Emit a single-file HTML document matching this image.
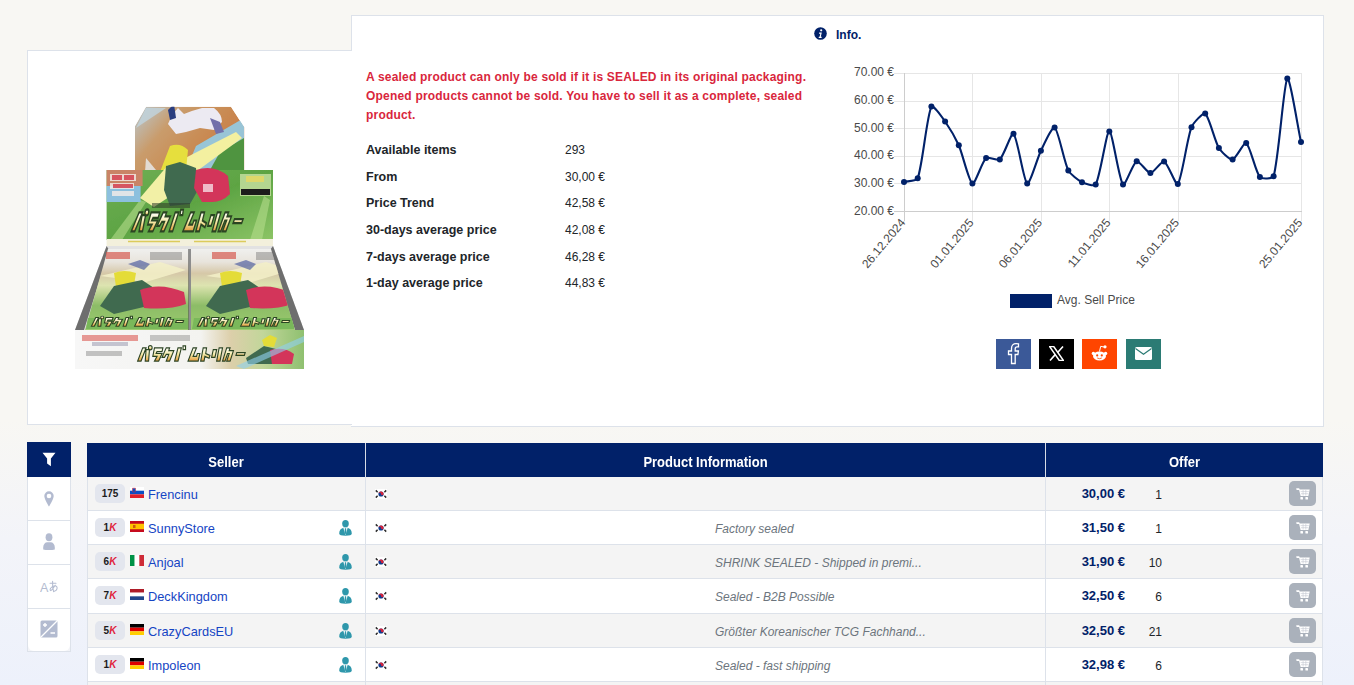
<!DOCTYPE html>
<html><head><meta charset="utf-8">
<style>
*{box-sizing:border-box;margin:0;padding:0}
html,body{width:1354px;height:685px;overflow:hidden}
body{font-family:"Liberation Sans",sans-serif;color:#212529;position:relative;
background:linear-gradient(to bottom,#f8f7f3 0px,#f8f7f3 420px,#f3f4f9 540px,#edf1fb 685px)}
.abs{position:absolute}
#info{left:351px;top:15px;width:973px;height:412px;background:#fff;border:1px solid #dde2ea}
#imgp{left:27px;top:50px;width:325px;height:375px;background:#fff;border:1px solid #dde2ea;border-right:none;z-index:2}
.t{position:absolute;white-space:nowrap}
#warn{left:366px;top:68px;font:bold 12px/19px "Liberation Sans",sans-serif;color:#d9263c;letter-spacing:0.2px}
.lab{font:bold 12.5px "Liberation Sans",sans-serif;color:#212529}
.val{font:12px "Liberation Sans",sans-serif;color:#212529}
.th{font:bold 13px "Liberation Sans",sans-serif;color:#fff;text-align:center;transform:scaleY(1.12)}
.row{position:absolute;left:87px;width:1236px;border-left:1px solid #dde2ea;border-right:1px solid #dde2ea;border-bottom:1px solid #dde2ea}
.row:before{content:"";position:absolute;left:277px;top:0;bottom:-1px;width:1px;background:#dde2ea}
.row:after{content:"";position:absolute;left:957px;top:0;bottom:-1px;width:1px;background:#dde2ea}
.badge{position:absolute;left:7px;top:7px;width:30px;height:19px;border-radius:5px;background:#e3e6ee;font:bold 10px/19px "Liberation Sans",sans-serif;color:#1b1b1b;text-align:center}
.badge i{color:#e0243c}
.flag{position:absolute;left:42px;top:10px;width:14px;height:11px;line-height:0}
.flag svg{display:block}
.name{position:absolute;left:60px;top:10px;font:12.8px "Liberation Sans",sans-serif;color:#1545c4;white-space:nowrap}
.pro{position:absolute;left:251px;top:9px}
.kr{position:absolute;left:287px;top:12px}
.cm{position:absolute;left:627px;top:11px;font:italic 12px "Liberation Sans",sans-serif;color:#6c757d;white-space:nowrap}
.pr{position:absolute;right:197px;top:9px;font:bold 13px "Liberation Sans",sans-serif;color:#012169;white-space:nowrap}
.qt{position:absolute;right:160px;top:11px;font:12px "Liberation Sans",sans-serif;color:#212529}
.cart{position:absolute;left:1201px;top:4px;width:27px;height:25px;border-radius:5px;background:#aab1bb;display:flex;align-items:center;justify-content:center}
.cart svg{display:block}
</style></head><body>
<div id="info" class="abs"></div>
<div id="imgp" class="abs"></div>
<div class="abs" style="left:351px;top:425px;width:1px;height:1px;background:#fff;z-index:2"></div>

<svg class="abs" style="left:814px;top:27px" width="13" height="13" viewBox="0 0 13 13"><circle cx="6.5" cy="6.5" r="6.3" fill="#012169"/><circle cx="7.2" cy="3.3" r="1.1" fill="#fff"/><path d="M5.2 5.6h2.6l-1 4.2h1l-0.3 1.2h-2.9l0.3-1.2h0.7l0.7-3h-1.4z" fill="#fff"/></svg>
<div class="t" style="left:836px;top:28px;font:bold 12px 'Liberation Sans',sans-serif;color:#012169">Info.</div>

<div id="warn" class="t">A sealed product can only be sold if it is SEALED in its original packaging.<br>Opened products cannot be sold. You have to sell it as a complete, sealed<br>product.</div>

<div class="t lab" style="left:366px;top:143px">Available items</div><div class="t val" style="left:565px;top:143px">293</div>
<div class="t lab" style="left:366px;top:170px">From</div><div class="t val" style="left:565px;top:170px">30,00 €</div>
<div class="t lab" style="left:366px;top:196px">Price Trend</div><div class="t val" style="left:565px;top:196px">42,58 €</div>
<div class="t lab" style="left:366px;top:223px">30-days average price</div><div class="t val" style="left:565px;top:223px">42,08 €</div>
<div class="t lab" style="left:366px;top:250px">7-days average price</div><div class="t val" style="left:565px;top:250px">46,28 €</div>
<div class="t lab" style="left:366px;top:276px">1-day average price</div><div class="t val" style="left:565px;top:276px">44,83 €</div>

<svg id="chart" class="abs" style="left:0;top:0;z-index:3" width="1354" height="685" viewBox="0 0 1354 685">
<g stroke="#e6e6e6" stroke-width="1"><line x1="894" y1="73.5" x2="1302" y2="73.5"/><line x1="894" y1="101.5" x2="1302" y2="101.5"/><line x1="894" y1="128.5" x2="1302" y2="128.5"/><line x1="894" y1="156.5" x2="1302" y2="156.5"/><line x1="894" y1="183.5" x2="1302" y2="183.5"/><line x1="972.5" y1="73" x2="972.5" y2="221"/><line x1="1041.5" y1="73" x2="1041.5" y2="221"/><line x1="1109.5" y1="73" x2="1109.5" y2="221"/><line x1="1178.5" y1="73" x2="1178.5" y2="221"/><line x1="1301.5" y1="73" x2="1301.5" y2="221"/></g>
<line x1="894" y1="211.5" x2="1302" y2="211.5" stroke="#cdcdcd"/><line x1="904.5" y1="73" x2="904.5" y2="221" stroke="#cdcdcd"/>
<g font-family="Liberation Sans" font-size="12" fill="#4a4a4a" text-anchor="end"><text x="894" y="76.2">70.00 €</text><text x="894" y="103.9">60.00 €</text><text x="894" y="131.5">50.00 €</text><text x="894" y="159.2">40.00 €</text><text x="894" y="186.8">30.00 €</text><text x="894" y="214.5">20.00 €</text><text transform="translate(906.0,223) rotate(-50)">26.12.2024</text><text transform="translate(974.4,223) rotate(-50)">01.01.2025</text><text transform="translate(1042.9,223) rotate(-50)">06.01.2025</text><text transform="translate(1111.3,223) rotate(-50)">11.01.2025</text><text transform="translate(1179.8,223) rotate(-50)">16.01.2025</text><text transform="translate(1303.0,223) rotate(-50)">25.01.2025</text></g>
<path d="M904.0,182.0 C907.0,181.2 916.7,181.0 917.7,178.3 C922.7,164.4 926.7,116.4 931.4,106.6 C932.7,103.9 942.5,117.9 945.1,121.5 C948.5,126.4 956.3,139.8 958.8,145.3 C962.4,153.4 968.9,181.9 972.4,183.5 C975.0,184.7 982.1,161.6 986.1,158.0 C988.1,156.3 997.9,161.2 999.8,159.5 C1003.9,155.9 1011.3,131.8 1013.5,133.7 C1017.4,137.1 1023.6,181.3 1027.2,183.5 C1029.7,185.0 1037.5,157.8 1040.9,150.8 C1043.5,145.5 1052.3,125.9 1054.6,127.5 C1058.4,130.2 1064.0,161.8 1068.3,170.4 C1070.0,173.9 1078.6,180.5 1082.0,182.3 C1084.6,183.6 1094.4,186.8 1095.7,184.5 C1100.5,175.6 1106.3,131.4 1109.3,131.4 C1112.4,131.4 1119.0,180.1 1123.0,184.5 C1125.0,186.7 1133.1,162.7 1136.7,161.2 C1139.1,160.2 1147.4,173.1 1150.4,173.1 C1153.4,173.1 1161.7,160.5 1164.1,161.5 C1167.7,162.9 1175.9,186.3 1177.8,184.0 C1181.9,178.8 1187.0,138.8 1191.5,127.2 C1193.0,123.4 1203.1,112.0 1205.2,113.6 C1209.1,116.6 1214.8,141.2 1218.9,148.0 C1220.8,151.3 1229.8,160.0 1232.6,159.5 C1235.8,158.9 1244.0,141.7 1246.2,143.1 C1250.0,145.5 1255.5,171.8 1259.9,177.1 C1261.6,179.1 1272.9,178.9 1273.6,176.3 C1278.9,157.3 1283.7,83.1 1287.3,78.6 C1289.7,75.6 1298.0,128.1 1301.0,142.1" fill="none" stroke="#012169" stroke-width="2.1"/>
<g fill="#012169"><circle cx="904.0" cy="182.0" r="3"/><circle cx="917.7" cy="178.3" r="3"/><circle cx="931.4" cy="106.6" r="3"/><circle cx="945.1" cy="121.5" r="3"/><circle cx="958.8" cy="145.3" r="3"/><circle cx="972.4" cy="183.5" r="3"/><circle cx="986.1" cy="158.0" r="3"/><circle cx="999.8" cy="159.5" r="3"/><circle cx="1013.5" cy="133.7" r="3"/><circle cx="1027.2" cy="183.5" r="3"/><circle cx="1040.9" cy="150.8" r="3"/><circle cx="1054.6" cy="127.5" r="3"/><circle cx="1068.3" cy="170.4" r="3"/><circle cx="1082.0" cy="182.3" r="3"/><circle cx="1095.7" cy="184.5" r="3"/><circle cx="1109.3" cy="131.4" r="3"/><circle cx="1123.0" cy="184.5" r="3"/><circle cx="1136.7" cy="161.2" r="3"/><circle cx="1150.4" cy="173.1" r="3"/><circle cx="1164.1" cy="161.5" r="3"/><circle cx="1177.8" cy="184.0" r="3"/><circle cx="1191.5" cy="127.2" r="3"/><circle cx="1205.2" cy="113.6" r="3"/><circle cx="1218.9" cy="148.0" r="3"/><circle cx="1232.6" cy="159.5" r="3"/><circle cx="1246.2" cy="143.1" r="3"/><circle cx="1259.9" cy="177.1" r="3"/><circle cx="1273.6" cy="176.3" r="3"/><circle cx="1287.3" cy="78.6" r="3"/><circle cx="1301.0" cy="142.1" r="3"/></g>
<rect x="1010" y="294" width="42" height="14" fill="#012169"/>
<text x="1057" y="303.5" font-family="Liberation Sans" font-size="12" fill="#4a4a4a">Avg. Sell Price</text>
</svg>
<svg id="prod" class="abs" style="left:60px;top:95px;z-index:3" width="260" height="285" viewBox="60 95 260 285">
<defs>
<filter id="bl" x="-5%" y="-5%" width="110%" height="110%"><feGaussianBlur stdDeviation="0.7"/></filter>
<linearGradient id="sky" x1="0" y1="0" x2="1" y2="0.5">
<stop offset="0" stop-color="#b9c9d2"/><stop offset=".35" stop-color="#c99c6c"/><stop offset=".7" stop-color="#c98a52"/><stop offset="1" stop-color="#c87a48"/>
</linearGradient>
<linearGradient id="jung" x1="0" y1="0" x2="1" y2="1">
<stop offset="0" stop-color="#6fae55"/><stop offset=".5" stop-color="#5da443"/><stop offset="1" stop-color="#8cc466"/>
</linearGradient>
<linearGradient id="title" x1="0" y1="0" x2="0" y2="1">
<stop offset="0" stop-color="#ffffff"/><stop offset=".5" stop-color="#f4eaa8"/><stop offset="1" stop-color="#e49a3a"/>
</linearGradient>
<linearGradient id="packg" x1="0" y1="0" x2="0" y2="1">
<stop offset="0" stop-color="#f0f0ee"/><stop offset=".16" stop-color="#e8e4dc"/><stop offset=".3" stop-color="#d6c8a8"/><stop offset=".45" stop-color="#dde4b0"/><stop offset=".7" stop-color="#8cbc66"/><stop offset="1" stop-color="#9ccb70"/>
</linearGradient>
<linearGradient id="front" x1="0" y1="0" x2="1" y2="0">
<stop offset="0" stop-color="#f7f7f7"/><stop offset=".55" stop-color="#f3f3f0"/><stop offset=".68" stop-color="#dccfaa"/><stop offset=".82" stop-color="#c2d69a"/><stop offset="1" stop-color="#8fc070"/>
</linearGradient>
<g id="kata">
<path d="M2 18L8 4h4L6 18zM12 6h4l-1 12h-4z"/>
<circle cx="17" cy="4" r="2.2"/>
<path d="M22 4h10l-1 4h-6l-1 2h7l-4 8h-5l3-5h-5z"/>
<path d="M36 4h4l-1 3h6l-5 11h-4l3-7h-3l-2 3h-3z"/>
<path d="M50 4h4l-4 14h-4zM56 2h3v4h-3z"/>
<path d="M62 18l6-14h4l-4 9h4l1-3h3l-2 8z"/>
<path d="M80 4h4l-1 6l5 2l-1 3l-5-2l-1 5h-4z"/>
<path d="M92 6h4l-2 8h-4zM99 4h4l-3 14h-4z"/>
<path d="M108 4h4l-1 3h5l-4 11h-4l3-8h-2l-3 8h-3z"/>
<path d="M120 9h10l-1 3h-10z"/>
</g>
</defs>
<g filter="url(#bl)">
<!-- lid -->
<clipPath id="lidc"><path d="M135 172V126L146 106.8H231L244.4 127.4V172z"/></clipPath>
<g clip-path="url(#lidc)">
<path d="M135 170V126L146 106.8H231L244.4 127.4V170z" fill="url(#sky)"/>
<path d="M136 128l30-20h-20z" fill="#c0d4de" opacity=".8"/>
<path d="M196 146L244 118V146L212 170H186z" fill="#8fd0ee" opacity=".85"/>
<path d="M220 152L244 138V170H210z" fill="#4f9440"/>
<path d="M168 124q4-10 10-16l6 6q10-4 18-6l12 0q8 6 8 14l-8 8l-14-2l-14 4l-10 2z" fill="#eceaf2"/>
<path d="M210 118l10 4l4 10l-8 2z" fill="#7270aa"/>
<path d="M168 110l6-6l2 14l-6 2z" fill="#2a3d80"/>
<path d="M150 176L236 132l6 6-60 44z" fill="#f3f0a0"/>
<path d="M160 172l10-26q10-4 18 4l-2 20l-14 10z" fill="#e6df3c"/>
<path d="M146 158l10 12l-12 16z" fill="#e8ecf0" opacity=".8"/>
</g>
<!-- body -->
<rect x="106.6" y="170" width="166.4" height="70" fill="url(#jung)"/>
<path d="M110 240l30-40l6 2l-24 38zM250 240l14-44l6 4l-8 40z" fill="#b4dc8a" opacity=".6"/>
<path d="M106.6 170h36v16h-36z" fill="#c98466"/>
<path d="M106.6 186h34v16h-34z" fill="#8cc0de"/>
<path d="M110 174h26v7h-26zM110 183h24v6h-24zM112 191h22v5h-22z" fill="#f5ece8" opacity=".8"/>
<path d="M112 175h10v5h-10zM124 175h10v5h-10zM113 184h20v4h-20z" fill="#d0283a" opacity=".75"/>
<path d="M140 198L168 165l4 30l-18 12z" fill="#f2f0a6"/>
<path d="M166 166l14-4l16 6l2 22l-8 14l-20 2l-6-16z" fill="#3f6b50"/>
<path d="M196 170q18-6 32 6l2 18q-8 8-18 8h-10l-8-14z" fill="#d3345a"/>
<path d="M203 184h10v8h-10z" fill="#f6dde4" opacity=".8"/>
<path d="M240 174h31v22h-31z" fill="#b4d690"/>
<path d="M246 176h18v6h-18z" fill="#e8d860" opacity=".8"/>
<path d="M241 189h29v6h-29z" fill="#1e1e1e"/>
<path d="M152 203h38v5h-38z" fill="#2d3a2a" opacity=".55"/>
<use href="#kata" transform="translate(133 207) skewX(-8) scale(0.86 1.35)" fill="url(#title)" stroke="#2c4424" stroke-width="1.6"/>
<rect x="106.6" y="239" width="166.4" height="7" fill="#f3f0dc"/>
<path d="M128 241.5h52M194 241.5h52" stroke="#dccb5c" stroke-width="1.3"/>
<!-- tray -->
<path d="M106.6 246H273L304 330H75z" fill="#e2e2e2"/>
<path d="M106.6 246L75 330h9L109 250z" fill="#6e6e6e"/>
<path d="M273 246L304 330h-9L270 250z" fill="#6e6e6e"/>
<path d="M108 249h81v81h-104z" fill="url(#packg)"/>
<path d="M191 249h80l24 81h-104z" fill="url(#packg)"/>
<clipPath id="pc2"><path d="M191 249h80l24 81h-104z"/></clipPath>
<g id="pack">
<path d="M106 252h24v7h-24z" fill="#d65a50" opacity=".7"/>
<path d="M150 252h32v8h-32z" fill="#555" opacity=".35"/>
<path d="M100 276l60-14l26 8l-40 12z" fill="#f3f0c8" opacity=".85"/>
<path d="M114 273q10-4 22 0l-2 12l-18 2z" fill="#e4dc38"/>
<path d="M128 264l12-4l10 4l-6 6z" fill="#3a4c9a" opacity=".6"/>
<path d="M100 306l14-20l28-6l12 8l-6 18l-34 8z" fill="#3f6b50"/>
<path d="M140 290q20-8 44 2l2 12q-16 6-42 4z" fill="#d3345a"/>
<path d="M88 318h100v11h-102z" fill="#7ab85a"/>
<use href="#kata" transform="translate(90 315) scale(0.72 0.62)" fill="url(#title)" stroke="#2c4424" stroke-width="1.5"/>
</g>
<g clip-path="url(#pc2)"><use href="#pack" x="106"/></g>
<path d="M188 249h3v81h-3z" fill="#555" opacity=".6"/>
<!-- front -->
<path d="M75 330H304V369H75z" fill="url(#front)"/>
<path d="M82 335h56v6h-56z" fill="#d84a44" opacity=".55"/>
<path d="M92 342h36v4h-36z" fill="#9a9ab0" opacity=".55"/>
<path d="M86 351h36v5h-36z" fill="#444" opacity=".3"/>
<path d="M150 335h40v6h-40z" fill="#333" opacity=".25"/>
<use href="#kata" transform="translate(136 344) scale(0.84 0.95)" fill="url(#title)" stroke="#2c4424" stroke-width="1.3"/>
<path d="M246 358l18-12l16 4l-2 14h-30z" fill="#3f6b50"/>
<path d="M270 350q14-4 24 4l-2 10h-20z" fill="#d3345a"/>
<path d="M262 340l8-5l7 3l-3 9l-10-1z" fill="#e4dc38"/>
<path d="M236 366L304 336v6L244 369z" fill="#8fd0f0" opacity=".6"/>
</g>
</svg>
<div id="side">
<div class="abs" style="left:27px;top:442px;width:44px;height:35px;background:#012169"></div>
<svg class="abs" style="left:42px;top:452px" width="14" height="15" viewBox="0 0 14 15"><path d="M0.5 0.8h13l-4.6 5.6v7.8l-3.8-2.6v-5.2z" fill="#fff"/></svg>
<div class="abs" style="left:27px;top:477px;width:44px;height:175px;border:1px solid #dde2ea;border-top:none;background:#f3f4f8"></div>
<div class="abs" style="left:28px;top:477px;width:42px;height:174px;background:#fff;border-radius:0 0 6px 6px"></div>
<div class="abs" style="left:28px;top:520px;width:42px;height:1px;background:#dde2ea"></div>
<div class="abs" style="left:28px;top:564px;width:42px;height:1px;background:#dde2ea"></div>
<div class="abs" style="left:28px;top:608px;width:42px;height:1px;background:#dde2ea"></div>
<svg class="abs" style="left:44px;top:491px" width="10" height="16" viewBox="0 0 10 16"><path d="M5 0.3a4.7 4.7 0 0 1 4.7 4.7c0 3-4.7 10.7-4.7 10.7s-4.7-7.7-4.7-10.7a4.7 4.7 0 0 1 4.7-4.7z" fill="#b3bbd0"/><circle cx="5" cy="5" r="2.3" fill="#fff"/></svg>
<svg class="abs" style="left:43px;top:533px" width="12" height="17" viewBox="0 0 12 17"><ellipse cx="6" cy="4.3" rx="3.4" ry="4" fill="#b3bbd0"/><path d="M0.2 16.5v-2.2c0-3 2-5 4-5h3.6c2 0 4 2 4 5v2.2q-2 0.5-5.8 0.5t-5.8-0.5z" fill="#b3bbd0"/></svg>
<svg class="abs" style="left:40px;top:580px" width="18" height="13" viewBox="0 0 18 13"><text x="0" y="11.5" font-family="Liberation Sans" font-size="12.5" fill="#b3bbd0">A</text><path d="M10 3.2h6M12.6 1.2q-0.3 6 1 10.5M15.2 5.2q-3.5 5.5-4.6 5.4q-1-0.3 0-2.4q2-2.6 4.6-2.4q2.3 0.4 1.8 3q-0.5 2-2.6 2.4" stroke="#b3bbd0" stroke-width="1.05" fill="none" stroke-linecap="round"/></svg>
<svg class="abs" style="left:40px;top:620px" width="18" height="18" viewBox="0 0 18 18"><rect x="0.5" y="0.5" width="17" height="17" rx="1.5" fill="#b3bbd0"/><path d="M17 1L1 17" stroke="#fff" stroke-width="1.2"/><path d="M3 5h4M5 3v4M10.5 13h4.5" stroke="#fff" stroke-width="1.4"/></svg>
</div>
<div id="social">
<div class="abs" style="left:996px;top:339px;width:35px;height:30px;background:#3b5998"></div>
<svg class="abs" style="left:1007px;top:343px" width="14" height="22" viewBox="0 0 14 22"><path d="M4.5 20.5v-9h-3v-3.5h3v-2.5c0-3 1.8-4.8 4.6-4.8c1.2 0 2.4 0.2 2.4 0.2v3h-1.4c-1.4 0-1.9 0.9-1.9 1.9v2.2h3.2l-0.5 3.5h-2.7v9z" fill="none" stroke="#fff" stroke-width="1.3"/></svg>
<div class="abs" style="left:1039px;top:339px;width:35px;height:30px;background:#000"></div>
<svg class="abs" style="left:1049px;top:346px" width="15" height="15" viewBox="0 0 15 15"><path d="M0.5 0.5h4.2l9.8 14h-4.2z" fill="none" stroke="#fff" stroke-width="1.5"/><path d="M14 0.5l-5.6 6.3M1 14.5l5.4-6.1" stroke="#fff" stroke-width="1.6"/></svg>
<div class="abs" style="left:1082px;top:339px;width:35px;height:30px;background:#ff4500"></div>
<svg class="abs" style="left:1090px;top:344px" width="19" height="19" viewBox="0 0 19 19"><ellipse cx="9.5" cy="12" rx="6.5" ry="4.6" fill="#fff"/><circle cx="3.4" cy="9.4" r="1.7" fill="#fff"/><circle cx="15.6" cy="9.4" r="1.7" fill="#fff"/><path d="M9.5 7.5l1.2-5.2l3.6 0.8" stroke="#fff" stroke-width="1" fill="none"/><circle cx="15" cy="2.8" r="1.6" fill="#fff"/><circle cx="7.2" cy="11.4" r="1.1" fill="#ff4500"/><circle cx="11.8" cy="11.4" r="1.1" fill="#ff4500"/><path d="M7.2 14q2.3 1.4 4.6 0" stroke="#ff4500" stroke-width=".8" fill="none"/></svg>
<div class="abs" style="left:1126px;top:339px;width:35px;height:30px;background:#2b7b74"></div>
<svg class="abs" style="left:1135px;top:347px" width="17" height="13" viewBox="0 0 17 13"><rect x="0" y="0" width="17" height="13" rx="1.5" fill="#fff"/><path d="M0.5 1.5l8 5.8l8-5.8" stroke="#2b7b74" stroke-width="1.2" fill="none"/></svg>
</div>
<div id="tbl">
<div class="abs" style="left:87px;top:443px;width:1236px;height:34px;background:#012169"></div>
<div class="abs" style="left:365px;top:443px;width:1px;height:34px;background:#d5dbe6"></div>
<div class="abs" style="left:1045px;top:443px;width:1px;height:34px;background:#d5dbe6"></div>
<div class="t th" style="left:87px;top:454px;width:278px">Seller</div>
<div class="t th" style="left:366px;top:454px;width:679px">Product Information</div>
<div class="t th" style="left:1046px;top:454px;width:277px">Offer</div>
<div class="row" style="top:477px;height:34px;background:#f4f4f4">
<div class="badge">175</div>
<div class="flag"><svg width="14" height="11" viewBox="0 0 14 11"><rect width="14" height="11" fill="#fff"/><rect y="3.7" width="14" height="3.6" fill="#0a4ec4"/><rect y="7.3" width="14" height="3.7" fill="#e0202a"/><path d="M2.5 1.2h3v3.5q-1.5 1.2-3 0z" fill="#0a4ec4" stroke="#e0202a" stroke-width=".5"/></svg></div>
<div class="name">Frencinu</div>
<svg class="kr" width="12" height="10" viewBox="0 0 12 10"><rect width="12" height="10" fill="#fff"/><circle cx="6" cy="5" r="2.6" fill="#0d3b8e"/><path d="M3.4 5a2.6 2.6 0 0 1 5.2 0a1.3 1.3 0 0 1-2.6 0a1.3 1.3 0 0 0-2.6 0z" fill="#d3223a"/><g stroke="#2a2a2a" stroke-width="1.5"><path d="M0.8 1.4l1.8 1.8M9.4 3.2l1.8-1.8M0.8 8.6l1.8-1.8M9.4 6.8l1.8 1.8"/></g></svg>
<div class="pr">30,00 €</div>
<div class="qt">1</div>
<div class="cart"><svg width="14" height="12" viewBox="0 0 14 12"><path d="M0.2 0.3h3l0.6 1.6h-3.2z" fill="#fff"/><path d="M3 1.5h10.7l-1.3 6.4h-7.8z" fill="#fff"/><path d="M4.6 3.6h8.2M5 5.7h7.4M7.1 2v5.5M9.8 2v5.5" stroke="#c3c8d0" stroke-width=".6"/><rect x="4.4" y="9" width="2.6" height="2.5" rx=".6" fill="#fff"/><rect x="9.4" y="9" width="2.6" height="2.5" rx=".6" fill="#fff"/></svg></div>
</div>
<div class="row" style="top:511px;height:34px;background:#fff">
<div class="badge">1<i>K</i></div>
<div class="flag"><svg width="14" height="11" viewBox="0 0 14 11"><rect width="14" height="11" fill="#c60b1e"/><rect y="2.75" width="14" height="5.5" fill="#ffc400"/><rect x="3" y="4" width="2.5" height="3" fill="#ad1519" opacity=".6"/></svg></div>
<div class="name">SunnyStore</div>
<svg class="pro" width="13" height="16" viewBox="0 0 13 16"><ellipse cx="6.5" cy="3.7" rx="3.3" ry="3.6" fill="#2e97ab"/><path d="M0.2 13.6c0-3.4 1.8-5.4 4.4-5.9h3.8c2.6 0.5 4.4 2.5 4.4 5.9q0 2.2-6.3 2.2t-6.3-2.2z" fill="#2e97ab"/><path d="M4.4 7.9h4.2l-2.1 7.4z" fill="#fff"/><path d="M5.9 8.2h1.2l0.4 4.6l-1 1.5l-1-1.5z" fill="#2e97ab"/></svg>
<svg class="kr" width="12" height="10" viewBox="0 0 12 10"><rect width="12" height="10" fill="#fff"/><circle cx="6" cy="5" r="2.6" fill="#0d3b8e"/><path d="M3.4 5a2.6 2.6 0 0 1 5.2 0a1.3 1.3 0 0 1-2.6 0a1.3 1.3 0 0 0-2.6 0z" fill="#d3223a"/><g stroke="#2a2a2a" stroke-width="1.5"><path d="M0.8 1.4l1.8 1.8M9.4 3.2l1.8-1.8M0.8 8.6l1.8-1.8M9.4 6.8l1.8 1.8"/></g></svg>
<div class="cm">Factory sealed</div>
<div class="pr">31,50 €</div>
<div class="qt">1</div>
<div class="cart"><svg width="14" height="12" viewBox="0 0 14 12"><path d="M0.2 0.3h3l0.6 1.6h-3.2z" fill="#fff"/><path d="M3 1.5h10.7l-1.3 6.4h-7.8z" fill="#fff"/><path d="M4.6 3.6h8.2M5 5.7h7.4M7.1 2v5.5M9.8 2v5.5" stroke="#c3c8d0" stroke-width=".6"/><rect x="4.4" y="9" width="2.6" height="2.5" rx=".6" fill="#fff"/><rect x="9.4" y="9" width="2.6" height="2.5" rx=".6" fill="#fff"/></svg></div>
</div>
<div class="row" style="top:545px;height:34px;background:#f4f4f4">
<div class="badge">6<i>K</i></div>
<div class="flag"><svg width="14" height="11" viewBox="0 0 14 11"><rect width="4.67" height="11" fill="#009246"/><rect x="4.67" width="4.67" height="11" fill="#fff"/><rect x="9.33" width="4.67" height="11" fill="#ce2b37"/></svg></div>
<div class="name">Anjoal</div>
<svg class="pro" width="13" height="16" viewBox="0 0 13 16"><ellipse cx="6.5" cy="3.7" rx="3.3" ry="3.6" fill="#2e97ab"/><path d="M0.2 13.6c0-3.4 1.8-5.4 4.4-5.9h3.8c2.6 0.5 4.4 2.5 4.4 5.9q0 2.2-6.3 2.2t-6.3-2.2z" fill="#2e97ab"/><path d="M4.4 7.9h4.2l-2.1 7.4z" fill="#fff"/><path d="M5.9 8.2h1.2l0.4 4.6l-1 1.5l-1-1.5z" fill="#2e97ab"/></svg>
<svg class="kr" width="12" height="10" viewBox="0 0 12 10"><rect width="12" height="10" fill="#fff"/><circle cx="6" cy="5" r="2.6" fill="#0d3b8e"/><path d="M3.4 5a2.6 2.6 0 0 1 5.2 0a1.3 1.3 0 0 1-2.6 0a1.3 1.3 0 0 0-2.6 0z" fill="#d3223a"/><g stroke="#2a2a2a" stroke-width="1.5"><path d="M0.8 1.4l1.8 1.8M9.4 3.2l1.8-1.8M0.8 8.6l1.8-1.8M9.4 6.8l1.8 1.8"/></g></svg>
<div class="cm">SHRINK SEALED - Shipped in premi...</div>
<div class="pr">31,90 €</div>
<div class="qt">10</div>
<div class="cart"><svg width="14" height="12" viewBox="0 0 14 12"><path d="M0.2 0.3h3l0.6 1.6h-3.2z" fill="#fff"/><path d="M3 1.5h10.7l-1.3 6.4h-7.8z" fill="#fff"/><path d="M4.6 3.6h8.2M5 5.7h7.4M7.1 2v5.5M9.8 2v5.5" stroke="#c3c8d0" stroke-width=".6"/><rect x="4.4" y="9" width="2.6" height="2.5" rx=".6" fill="#fff"/><rect x="9.4" y="9" width="2.6" height="2.5" rx=".6" fill="#fff"/></svg></div>
</div>
<div class="row" style="top:579px;height:35px;background:#fff">
<div class="badge">7<i>K</i></div>
<div class="flag"><svg width="14" height="11" viewBox="0 0 14 11"><rect width="14" height="3.67" fill="#ae1c28"/><rect y="3.67" width="14" height="3.67" fill="#fff"/><rect y="7.33" width="14" height="3.67" fill="#21468b"/></svg></div>
<div class="name">DeckKingdom</div>
<svg class="pro" width="13" height="16" viewBox="0 0 13 16"><ellipse cx="6.5" cy="3.7" rx="3.3" ry="3.6" fill="#2e97ab"/><path d="M0.2 13.6c0-3.4 1.8-5.4 4.4-5.9h3.8c2.6 0.5 4.4 2.5 4.4 5.9q0 2.2-6.3 2.2t-6.3-2.2z" fill="#2e97ab"/><path d="M4.4 7.9h4.2l-2.1 7.4z" fill="#fff"/><path d="M5.9 8.2h1.2l0.4 4.6l-1 1.5l-1-1.5z" fill="#2e97ab"/></svg>
<svg class="kr" width="12" height="10" viewBox="0 0 12 10"><rect width="12" height="10" fill="#fff"/><circle cx="6" cy="5" r="2.6" fill="#0d3b8e"/><path d="M3.4 5a2.6 2.6 0 0 1 5.2 0a1.3 1.3 0 0 1-2.6 0a1.3 1.3 0 0 0-2.6 0z" fill="#d3223a"/><g stroke="#2a2a2a" stroke-width="1.5"><path d="M0.8 1.4l1.8 1.8M9.4 3.2l1.8-1.8M0.8 8.6l1.8-1.8M9.4 6.8l1.8 1.8"/></g></svg>
<div class="cm">Sealed - B2B Possible</div>
<div class="pr">32,50 €</div>
<div class="qt">6</div>
<div class="cart"><svg width="14" height="12" viewBox="0 0 14 12"><path d="M0.2 0.3h3l0.6 1.6h-3.2z" fill="#fff"/><path d="M3 1.5h10.7l-1.3 6.4h-7.8z" fill="#fff"/><path d="M4.6 3.6h8.2M5 5.7h7.4M7.1 2v5.5M9.8 2v5.5" stroke="#c3c8d0" stroke-width=".6"/><rect x="4.4" y="9" width="2.6" height="2.5" rx=".6" fill="#fff"/><rect x="9.4" y="9" width="2.6" height="2.5" rx=".6" fill="#fff"/></svg></div>
</div>
<div class="row" style="top:614px;height:34px;background:#f4f4f4">
<div class="badge">5<i>K</i></div>
<div class="flag"><svg width="14" height="11" viewBox="0 0 14 11"><rect width="14" height="3.67" fill="#000"/><rect y="3.67" width="14" height="3.67" fill="#dd0000"/><rect y="7.33" width="14" height="3.67" fill="#ffce00"/></svg></div>
<div class="name">CrazyCardsEU</div>
<svg class="pro" width="13" height="16" viewBox="0 0 13 16"><ellipse cx="6.5" cy="3.7" rx="3.3" ry="3.6" fill="#2e97ab"/><path d="M0.2 13.6c0-3.4 1.8-5.4 4.4-5.9h3.8c2.6 0.5 4.4 2.5 4.4 5.9q0 2.2-6.3 2.2t-6.3-2.2z" fill="#2e97ab"/><path d="M4.4 7.9h4.2l-2.1 7.4z" fill="#fff"/><path d="M5.9 8.2h1.2l0.4 4.6l-1 1.5l-1-1.5z" fill="#2e97ab"/></svg>
<svg class="kr" width="12" height="10" viewBox="0 0 12 10"><rect width="12" height="10" fill="#fff"/><circle cx="6" cy="5" r="2.6" fill="#0d3b8e"/><path d="M3.4 5a2.6 2.6 0 0 1 5.2 0a1.3 1.3 0 0 1-2.6 0a1.3 1.3 0 0 0-2.6 0z" fill="#d3223a"/><g stroke="#2a2a2a" stroke-width="1.5"><path d="M0.8 1.4l1.8 1.8M9.4 3.2l1.8-1.8M0.8 8.6l1.8-1.8M9.4 6.8l1.8 1.8"/></g></svg>
<div class="cm">Größter Koreanischer TCG Fachhand...</div>
<div class="pr">32,50 €</div>
<div class="qt">21</div>
<div class="cart"><svg width="14" height="12" viewBox="0 0 14 12"><path d="M0.2 0.3h3l0.6 1.6h-3.2z" fill="#fff"/><path d="M3 1.5h10.7l-1.3 6.4h-7.8z" fill="#fff"/><path d="M4.6 3.6h8.2M5 5.7h7.4M7.1 2v5.5M9.8 2v5.5" stroke="#c3c8d0" stroke-width=".6"/><rect x="4.4" y="9" width="2.6" height="2.5" rx=".6" fill="#fff"/><rect x="9.4" y="9" width="2.6" height="2.5" rx=".6" fill="#fff"/></svg></div>
</div>
<div class="row" style="top:648px;height:34px;background:#fff">
<div class="badge">1<i>K</i></div>
<div class="flag"><svg width="14" height="11" viewBox="0 0 14 11"><rect width="14" height="3.67" fill="#000"/><rect y="3.67" width="14" height="3.67" fill="#dd0000"/><rect y="7.33" width="14" height="3.67" fill="#ffce00"/></svg></div>
<div class="name">Impoleon</div>
<svg class="pro" width="13" height="16" viewBox="0 0 13 16"><ellipse cx="6.5" cy="3.7" rx="3.3" ry="3.6" fill="#2e97ab"/><path d="M0.2 13.6c0-3.4 1.8-5.4 4.4-5.9h3.8c2.6 0.5 4.4 2.5 4.4 5.9q0 2.2-6.3 2.2t-6.3-2.2z" fill="#2e97ab"/><path d="M4.4 7.9h4.2l-2.1 7.4z" fill="#fff"/><path d="M5.9 8.2h1.2l0.4 4.6l-1 1.5l-1-1.5z" fill="#2e97ab"/></svg>
<svg class="kr" width="12" height="10" viewBox="0 0 12 10"><rect width="12" height="10" fill="#fff"/><circle cx="6" cy="5" r="2.6" fill="#0d3b8e"/><path d="M3.4 5a2.6 2.6 0 0 1 5.2 0a1.3 1.3 0 0 1-2.6 0a1.3 1.3 0 0 0-2.6 0z" fill="#d3223a"/><g stroke="#2a2a2a" stroke-width="1.5"><path d="M0.8 1.4l1.8 1.8M9.4 3.2l1.8-1.8M0.8 8.6l1.8-1.8M9.4 6.8l1.8 1.8"/></g></svg>
<div class="cm">Sealed - fast shipping</div>
<div class="pr">32,98 €</div>
<div class="qt">6</div>
<div class="cart"><svg width="14" height="12" viewBox="0 0 14 12"><path d="M0.2 0.3h3l0.6 1.6h-3.2z" fill="#fff"/><path d="M3 1.5h10.7l-1.3 6.4h-7.8z" fill="#fff"/><path d="M4.6 3.6h8.2M5 5.7h7.4M7.1 2v5.5M9.8 2v5.5" stroke="#c3c8d0" stroke-width=".6"/><rect x="4.4" y="9" width="2.6" height="2.5" rx=".6" fill="#fff"/><rect x="9.4" y="9" width="2.6" height="2.5" rx=".6" fill="#fff"/></svg></div>
</div>
<div class="row" style="top:682px;height:10px;background:#f4f4f4">
</div>
</div>
<!--/tbl-->
</body></html>
